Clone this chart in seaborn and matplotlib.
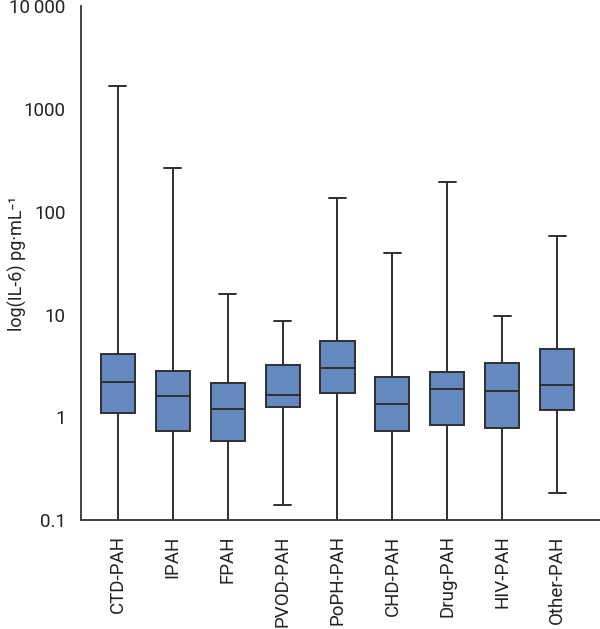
import numpy as np
import pandas as pd
import matplotlib
matplotlib.use("Agg")
import matplotlib.pyplot as plt
import seaborn as sns

# Données (min, Q1, médiane, Q3, max)

groupes = ["CTD-PAH", "IPAH", "FPAH", "PVOD-PAH", "PoPH-PAH",
           "CHD-PAH", "Drug-PAH", "HIV-PAH", "Other-PAH"]
minimum = [0.05, 0.05, 0.05, 0.142, 0.05, 0.05, 0.05, 0.05, 0.185]
q1 = [1.11, 0.73, 0.59, 1.27, 1.71, 0.74, 0.84, 0.78, 1.18]
mediane = [2.23, 1.61, 1.22, 1.65, 3.0, 1.35, 1.87, 1.81, 2.08]
q3 = [4.15, 2.85, 2.15, 3.26, 5.5, 2.5, 2.77, 3.35, 4.65]
maximum = [1670, 267, 15.7, 8.6, 136, 39.4, 197, 9.6, 58.5]

yticks = [0.1, 1, 10, 100, 1000, 10000]
yticklabels = ["0.1", "1", "10", "100", "1000", "10\u2009000"]

# Tableau long : 5 points par groupe -> quartiles exacts

lignes = []
for i, g in enumerate(groupes):
    for v in (minimum[i], q1[i], mediane[i], q3[i], maximum[i]):
        lignes.append({"groupe": g, "IL6": v})
df = pd.DataFrame(lignes)

sns.set_style("white")
plt.rcParams["font.family"] = ["Roboto", "DejaVu Sans"]

fig = plt.figure(figsize=(6, 6.29), dpi=100)
ax = fig.add_axes([0.135, 0.173, 0.865, 0.817])

sns.boxplot(data=df, x="groupe", y="IL6", order=groupes, ax=ax,
            whis=(0, 100), width=0.62, log_scale=True,
            color="#6389bf", saturation=1, linecolor="#2f2f2f", linewidth=1.4,
            showfliers=False)

ax.set_ylim(0.1, 10000)
ax.set_xlim(-0.67, 8.78)
ax.set_yticks(yticks)
ax.set_yticklabels(yticklabels)
ax.yaxis.set_minor_locator(matplotlib.ticker.NullLocator())
ax.tick_params(axis="both", direction="out", length=8, width=1.3, color="#333333",
               labelcolor="#222222", pad=3)
ax.tick_params(axis="y", labelsize=13.5)
ax.tick_params(axis="x", labelrotation=90, labelsize=13.5)
ax.set_xlabel("")
ax.set_ylabel("log(IL-6) pg\u00b7mL\u207b\u00b9", fontsize=13, color="#222222")
ax.yaxis.set_label_coords(-0.104, 0.5)
sns.despine(ax=ax)
for s in ("left", "bottom"):
    ax.spines[s].set_color("#333333")
    ax.spines[s].set_linewidth(1.3)

fig.savefig("out.png", dpi=100)
